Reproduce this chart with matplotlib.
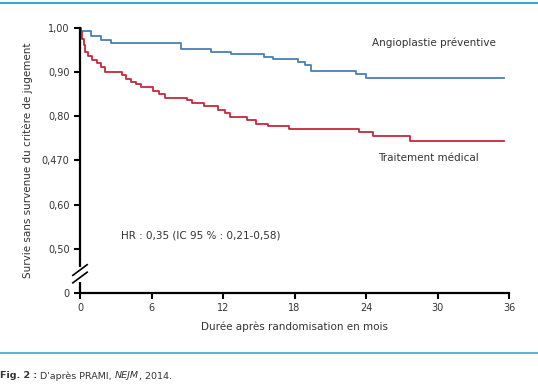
import matplotlib.pyplot as plt

# Kaplan-Meier style steps (month, survival after the step)
angio_months = [0, 0.9, 1.8, 2.6, 8.5, 11.0, 12.7, 15.4, 16.2, 18.3, 18.9, 19.4, 23.2, 24.0, 35.6]
angio_surv = [0.993, 0.982, 0.972, 0.965, 0.952, 0.944, 0.940, 0.933, 0.929, 0.923, 0.916, 0.903, 0.895, 0.887, 0.887]

med_months = [0, 0.1, 0.2, 0.3, 0.45, 0.65, 1.0, 1.4, 1.8, 2.1, 3.5, 3.9, 4.3, 4.7, 5.1,
              6.1, 6.6, 7.1, 9.0, 9.4, 10.4, 11.6, 12.2, 12.6, 14.0, 14.8, 15.8, 17.5,
              23.4, 24.6, 27.7, 35.6]
med_surv = [1.00, 0.99, 0.975, 0.96, 0.945, 0.935, 0.928, 0.92, 0.912, 0.90, 0.893, 0.885,
            0.878, 0.872, 0.865, 0.857, 0.85, 0.841, 0.836, 0.829, 0.822, 0.815, 0.806,
            0.799, 0.791, 0.783, 0.778, 0.771, 0.764, 0.754, 0.743, 0.743]

x_ticks = [0, 6, 12, 18, 24, 30, 36]
y_ticks = [0.4, 0.5, 0.6, 0.7, 0.8, 0.9, 1.0]
y_labels = ["0", "0,50", "0,60", "0,470", "0,80", "0,90", "1,00"]

caption_parts = [("Fig. 2 :", "bold", "normal"), (" D'après PRAMI, ", "normal", "normal"),
                 ("NEJM", "normal", "italic"), (", 2014.", "normal", "normal")]

blue = "#4a7fb5"
red = "#c8283a"
cyan = "#3aa8c8"
txt = "#333333"

plt.rcParams['font.family'] = ['DejaVu Sans']
fig = plt.figure(figsize=(5.38, 3.84), dpi=100)
ax = fig.add_axes([80 / 538, 1 - 293 / 384, 429 / 538, (293 - 27.7) / 384])

ax.step(angio_months, angio_surv, where="post", color=blue, lw=1.3, clip_on=False)
ax.step(med_months, med_surv, where="post", color=red, lw=1.3, clip_on=False)

ax.set_xlim(0, 36)
ax.set_ylim(0.4, 1.0)
ax.set_xticks(x_ticks)
ax.set_yticks(y_ticks)
ax.set_yticklabels(y_labels)
ax.tick_params(labelsize=7, width=1.5, length=4, colors="black", labelcolor=txt)
for s in ["top", "right"]:
    ax.spines[s].set_visible(False)
for s in ["left", "bottom"]:
    ax.spines[s].set_linewidth(1.6)

# axis break marks
ax.plot([0, 0], [0.43, 0.455], color="white", lw=3, clip_on=False, zorder=5)
for yb in [0.435, 0.452]:
    ax.plot([-0.6, 0.6], [yb - 0.012, yb + 0.012], color="black", lw=1.2, clip_on=False, zorder=6)

ax.set_xlabel("Durée après randomisation en mois", fontsize=7.5, color=txt, labelpad=6)
ax.set_ylabel("Survie sans survenue du critère de jugement", fontsize=7.5, color=txt, labelpad=6)

ax.text(24.5, 0.965, "Angioplastie préventive", fontsize=7.5, color=txt, va="center")
ax.text(25.0, 0.705, "Traitement médical", fontsize=7.5, color=txt, va="center")
ax.text(3.4, 0.53, "HR : 0,35 (IC 95 % : 0,21-0,58)", fontsize=7.5, color=txt, va="center")

# cyan rules and caption
fig.add_artist(plt.Line2D([0, 1], [1 - 3 / 384, 1 - 3 / 384], color=cyan, lw=1.5))
fig.add_artist(plt.Line2D([0, 1], [1 - 353 / 384, 1 - 353 / 384], color=cyan, lw=1.2))

fig.canvas.draw()
renderer = fig.canvas.get_renderer()
xpos = 0.0
for part, weight, style in caption_parts:
    t = fig.text(xpos, 1 - 376 / 384, part, fontsize=6.8, fontweight=weight, style=style,
                 color=txt, va="center")
    bb = t.get_window_extent(renderer)
    xpos += bb.width / fig.bbox.width

fig.savefig("out.png", dpi=100)
